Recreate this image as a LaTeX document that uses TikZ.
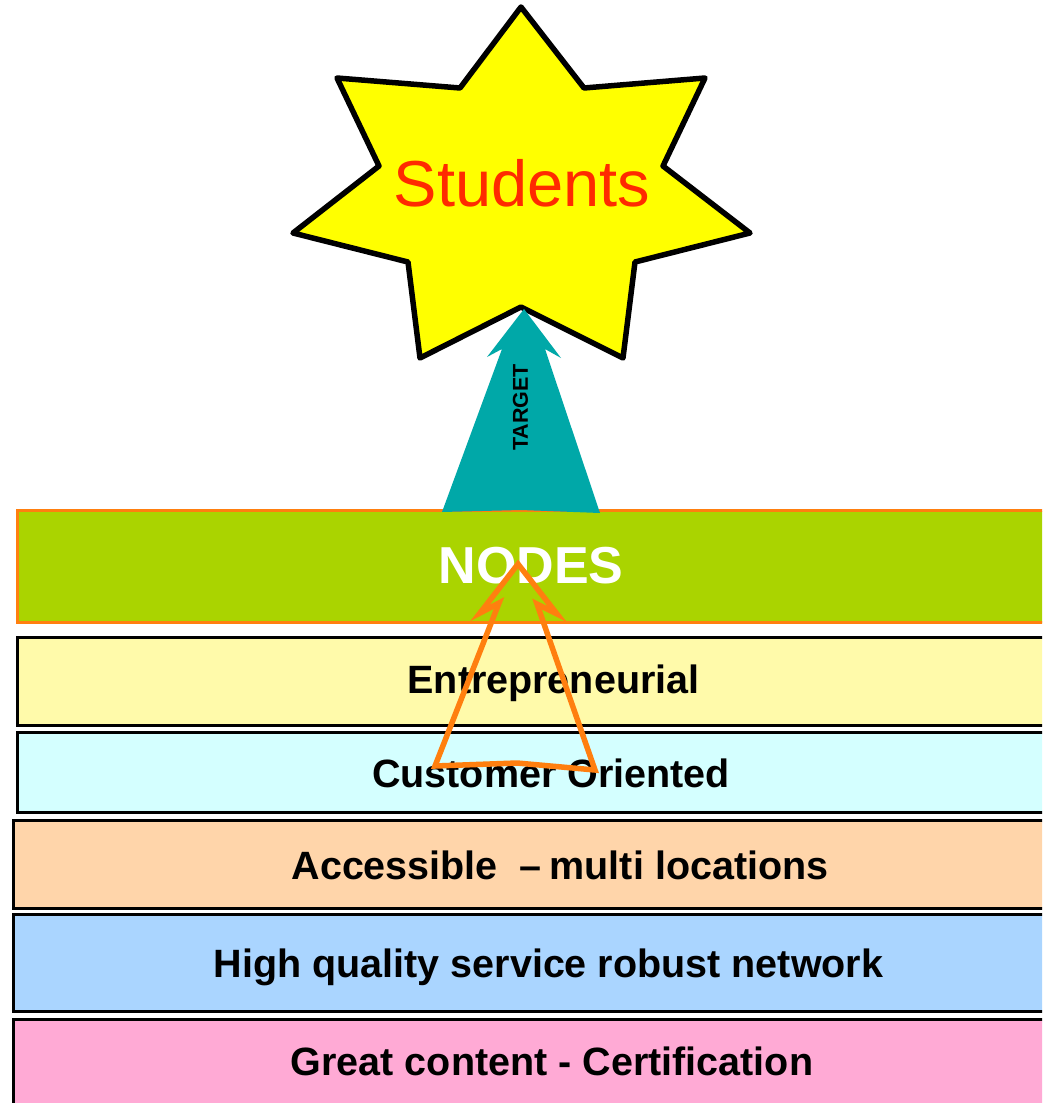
\documentclass[tikz,border=0pt]{standalone}
\usepackage{fontspec}
\setmainfont{Liberation Sans}
\definecolor{starY}{HTML}{FFFF00}
\definecolor{stuRed}{HTML}{FF2A00}
\definecolor{teal1}{HTML}{00A8A8}
\definecolor{greenB}{HTML}{AAD400}
\definecolor{orangeL}{HTML}{FF7F0F}
\definecolor{yelB}{HTML}{FFFAAA}
\definecolor{cyanB}{HTML}{D4FFFF}
\definecolor{peachB}{HTML}{FFD5AA}
\definecolor{blueB}{HTML}{AAD5FF}
\definecolor{pinkB}{HTML}{FFAAD5}
\begin{document}
\begin{tikzpicture}[x=1pt,y=-1pt,
  bar/.style={draw=black, line width=3pt, rectangle, anchor=north west, inner sep=0pt, minimum width=1100pt},
  bartext/.style={anchor=base, inner sep=0pt, font=\bfseries\fontsize{39.5}{40}\selectfont},
]
\useasboundingbox (0,0) rectangle (1042,1103);
\clip (0,0) rectangle (1042,1103);
\fill[white] (0,0) rectangle (1042,1103);

% bars
\node[bar, draw=orangeL, fill=greenB, minimum height=112pt] (bnodes) at (16,509) {};
\node[bar, fill=yelB,  minimum height=88pt] (bent)  at (16,636) {};
\node[bar, fill=cyanB, minimum height=80pt] (bcus)  at (16,731) {};
\node[bar, fill=peachB,minimum height=88pt] (bacc)  at (12,819) {};
\node[bar, fill=blueB, minimum height=97pt] (bhig)  at (12,913) {};
\node[bar, fill=pinkB, minimum height=100pt] (bgre) at (12,1018) {};

% bar texts
\node[bartext, text=white, font=\bfseries\fontsize{52}{52}\selectfont] (tnodes) at (531,583) {NODES};
\node[bartext] (tent) at (553.5,693) {Entrepreneurial};
\node[bartext] (tcus) at (551,787) {Customer Oriented};
\node[bartext] (tacc) at (560,879) {Accessible\ \ –\hspace{0.2em}multi locations};
\node[bartext] (thig) at (548.5,977) {High quality service robust network};
\node[bartext] (tgre) at (552,1075) {Great content - Certification};

% star
\draw[line width=5.5pt, line join=round, fill=starY]
  (521,7) -- (584,88) -- (705,78) -- (663,166) -- (750,233) -- (635,262)
  -- (623,358) -- (521,307) -- (420,358) -- (408,262) -- (293,233)
  -- (379,166) -- (337,78) -- (460,88) -- cycle;
\node[anchor=base, inner sep=0pt, text=stuRed, font=\fontsize{65}{65}\selectfont] (stu) at (522,206) {Students};

% teal target arrow
\fill[teal1] (442,512) -- (502,349) -- (487,357) -- (524,309) -- (561,358)
  -- (545,349) -- (600,513) -- (521,510) -- cycle;
\node[rotate=90, inner sep=0pt, font=\bfseries\fontsize{21.5}{22}\selectfont] (target) at (520.5,407.5) {TARGET};

% orange outline arrow
\draw[orangeL, line width=5.5pt, line join=miter]
  (435,766) -- (499,603) -- (480,613) -- (518,564) -- (557,614) -- (537,604)
  -- (595,770) -- (517,763) -- cycle;
\end{tikzpicture}
\end{document}
